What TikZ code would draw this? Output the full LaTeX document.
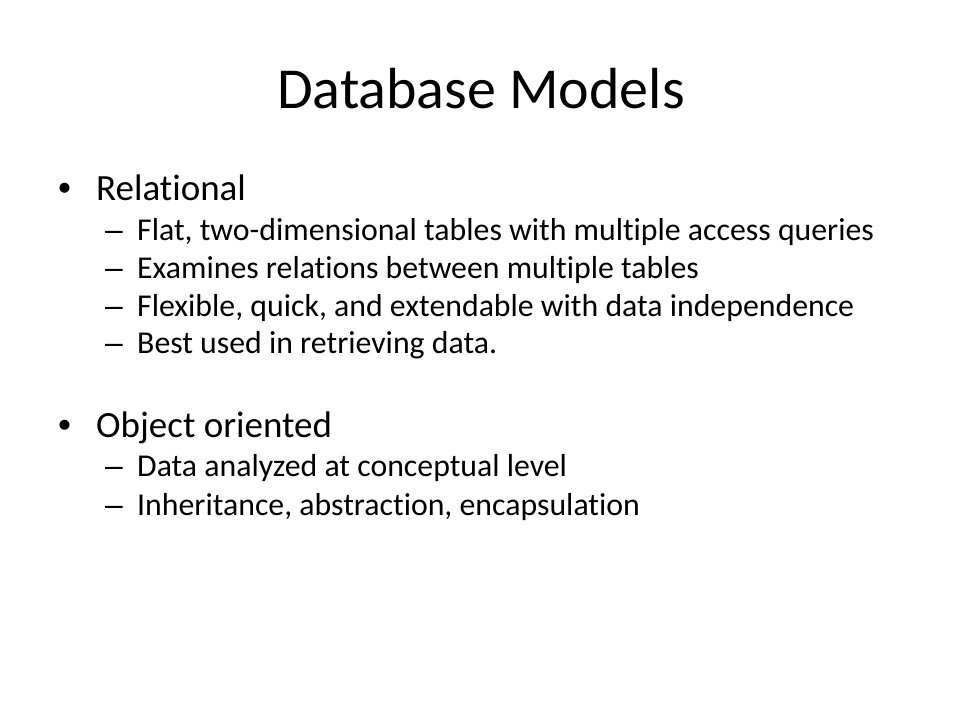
\documentclass[tikz,border=0pt]{standalone}
\usepackage{fontspec}
\setmainfont{Carlito}[Ligatures=NoCommon]
\newfontfamily\bulletfont{Liberation Sans}
\usetikzlibrary{positioning}

\tikzset{
  slidetitle/.style={anchor=base, inner sep=0pt, font=\fontsize{58}{70}\selectfont},
  topitem/.style={anchor=base west, inner sep=0pt, font=\fontsize{37}{44}\selectfont},
  topmark/.style={anchor=base west, inner sep=0pt, font=\bulletfont\fontsize{37}{44}\selectfont},
  subitem/.style={anchor=base west, inner sep=0pt, font=\fontsize{31.8}{38}\selectfont},
  submark/.style={anchor=base west, inner sep=0pt, font=\bulletfont\fontsize{31.8}{38}\selectfont},
}

\begin{document}
\begin{tikzpicture}[x=1pt,y=-1pt]
    \useasboundingbox (0,0) rectangle (960,720);
    \node[slidetitle] (title) at (481,108) {Database Models};
    % first model
    \node[topmark] (bulA) at (58,200) {•};
    \node[topitem] (rel) at (96,200) {Relational};
    \node[submark] (dashA) at (105,240) {–};
    \node[subitem] (relA) at (137,240) {Flat, two-dimensional tables with multiple access queries};
    \node[submark] (dashB) at (105,278) {–};
    \node[subitem] (relB) at (137,278) {Examines relations between multiple tables};
    \node[submark] (dashC) at (105,316) {–};
    \node[subitem] (relC) at (137,316) {Flexible, quick, and extendable with data independence};
    \node[submark] (dashD) at (105,353) {–};
    \node[subitem] (relD) at (137,353) {Best used in retrieving data.};
    % second model
    \node[topmark] (bulB) at (58,437) {•};
    \node[topitem] (obj) at (96,437) {Object oriented};
    \node[submark] (dashE) at (105,476) {–};
    \node[subitem] (objA) at (137,476) {Data analyzed at conceptual level};
    \node[submark] (dashF) at (105,515) {–};
    \node[subitem] (objB) at (137,515) {Inheritance, abstraction, encapsulation};
\end{tikzpicture}
\end{document}
